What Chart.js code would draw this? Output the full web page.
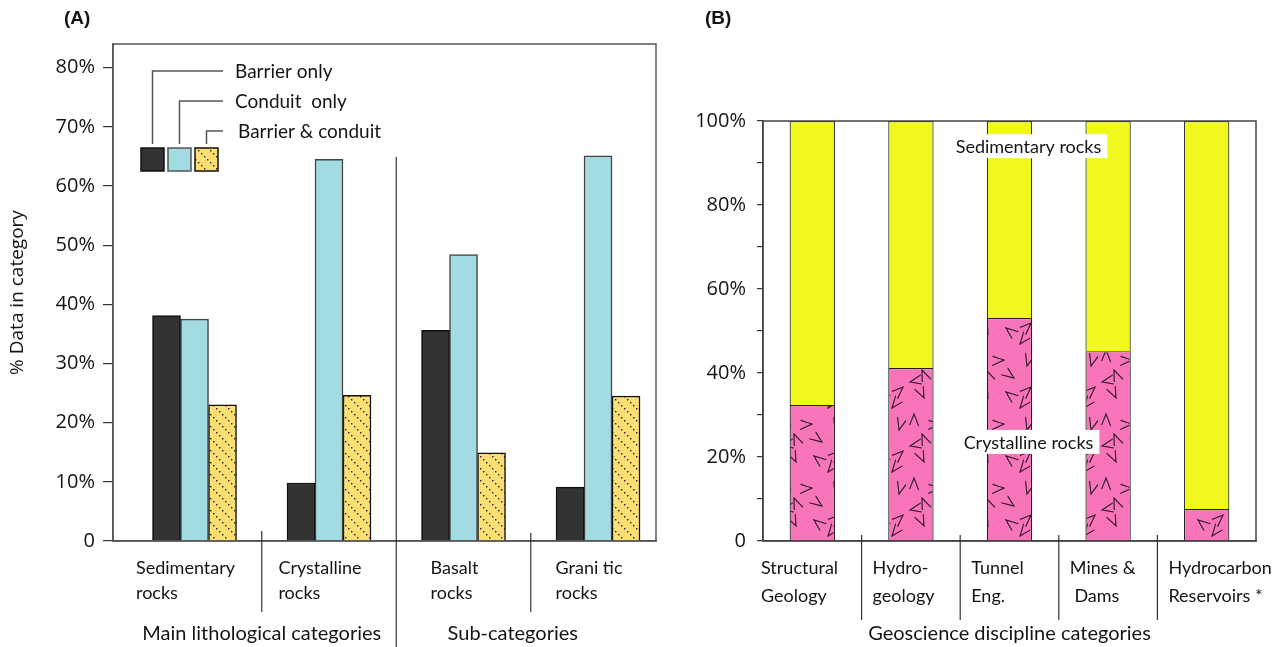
<!DOCTYPE html>
<html>
<head>
<meta charset="utf-8">
<title>Fault zone rock categories</title>
<script src="https://cdn.jsdelivr.net/npm/chart.js@4.4.1/dist/chart.umd.min.js"></script>
<style>
html, body { margin: 0; padding: 0; background: #fff; }
#wrapA { position: absolute; left: 0; top: 0; width: 680px; height: 647px; }
#wrapB { position: absolute; left: 680px; top: 0; width: 602px; height: 647px; }
</style>
</head>
<body>
<div id="wrapA"><canvas id="chartA"></canvas></div>
<div id="wrapB"><canvas id="chartB"></canvas></div>
<script>
// (A) % data in each lithological category
var rockCats = [['Sedimentary', 'rocks'], ['Crystalline', 'rocks'], ['Basalt', 'rocks'], ['Grani tic', 'rocks']];
var barrierOnly = [38.1, 9.8, 35.6, 9.1];
var conduitOnly = [37.5, 64.5, 48.4, 65.1];
var barrierConduit = [23.0, 24.6, 14.9, 24.5];
var seriesA = ['Barrier only', 'Conduit  only', 'Barrier & conduit'];
var groupTitlesA = ['Main lithological categories', 'Sub-categories'];

// (B) share of crystalline / sedimentary rocks per discipline
var disciplines = [['Structural', 'Geology'], ['Hydro-', 'geology'], ['Tunnel', 'Eng.'], ['Mines &', ' Dams'], ['Hydrocarbon', 'Reservoirs *']];
var crystalline = [32.4, 41.2, 53.1, 45.2, 7.6];
var sedimentary = [67.6, 58.8, 46.9, 54.8, 92.4];
var groupTitleB = 'Geoscience discipline categories';

var LBL = 'Lato, "Open Sans", sans-serif';
var TCK = '"Open Sans", sans-serif';
var INK = '#141414';

function dotPattern() {
  var c = document.createElement('canvas'); c.width = 12; c.height = 12;
  var g = c.getContext('2d');
  g.fillStyle = '#FFDE72'; g.fillRect(0, 0, 12, 12);
  g.fillStyle = '#1c1c1c';
  [0, 3, 6, 9].forEach(function(k) { g.fillRect(k, k, 1.4, 1.4); });
  return g.createPattern(c, 'repeat');
}

// fixed chevron layout for the crystalline texture: [x, y, angle]
var chevronTile = [[6,8,0.3],[31,3,2.0],[52,14,3.9],[20,24,5.0],[42,30,1.2],[4,40,2.7],[27,46,4.6],[50,50,0.8],[14,58,3.4],[38,62,5.7]];
function chevronPattern() {
  var T = 64;
  var c = document.createElement('canvas'); c.width = T; c.height = T;
  var g = c.getContext('2d');
  g.fillStyle = '#F775B8'; g.fillRect(0, 0, T, T);
  g.strokeStyle = '#2a1424'; g.lineWidth = 1.1;
  chevronTile.forEach(function(p) {
    for (var dx = -T; dx <= T; dx += T) for (var dy = -T; dy <= T; dy += T) {
      var x = p[0] + dx, y = p[1] + dy, a = p[2];
      g.beginPath();
      g.moveTo(x + 13 * Math.cos(a), y + 13 * Math.sin(a));
      g.lineTo(x, y);
      g.lineTo(x + 12 * Math.cos(a + 0.75), y + 12 * Math.sin(a + 0.75));
      g.stroke();
    }
  });
  return g.createPattern(c, 'repeat');
}

function drawBlockLabel(ctx, lines, left, y0, gap) {
  ctx.textAlign = 'left';
  lines.forEach(function(l, k) { ctx.fillText(l, left, y0 + k * gap); });
}
function blockWidth(ctx, lines) {
  var w = 0;
  lines.forEach(function(l) { w = Math.max(w, ctx.measureText(l).width); });
  return w;
}

function line(ctx, x1, y1, x2, y2) {
  ctx.beginPath(); ctx.moveTo(x1, y1); ctx.lineTo(x2, y2); ctx.stroke();
}

var decorA = {
  id: 'decorA',
  afterDraw: function(chart) {
    var ctx = chart.ctx, a = chart.chartArea, xs = chart.scales.x;
    ctx.save();
    ctx.strokeStyle = '#555'; ctx.lineWidth = 1.5;
    ctx.strokeRect(a.left, a.top, a.right - a.left, a.bottom - a.top);

    // separators
    ctx.strokeStyle = '#333'; ctx.lineWidth = 1.2;
    var s1 = xs.getPixelForValue(0.5), s2 = xs.getPixelForValue(1.5), s3 = xs.getPixelForValue(2.5);
    line(ctx, s1, a.bottom - 10, s1, a.bottom + 71);
    line(ctx, s3, a.bottom - 8, s3, a.bottom + 71);
    line(ctx, s2, a.top + 113, s2, 647);

    // category labels
    ctx.fillStyle = INK; ctx.font = '18px ' + LBL; ctx.textBaseline = 'middle';
    rockCats.forEach(function(c, i) {
      var w = blockWidth(ctx, c);
      drawBlockLabel(ctx, c, xs.getPixelForValue(i) - 9 - w / 2, a.bottom + 27, 25);
    });
    ctx.font = '20px ' + LBL; ctx.textAlign = 'center';
    ctx.fillText(groupTitlesA[0], s1, a.bottom + 93);
    ctx.fillText(groupTitlesA[1], s3 - 18, a.bottom + 93);

    // legend with leader lines
    var fills = chart.data.datasets.map(function(d) { return d.backgroundColor; });
    var sq = 23, sy = a.top + 104, lineY = [a.top + 27, a.top + 57, a.top + 87];
    for (var k = 0; k < 3; k++) {
      var sx = a.left + 28 + k * 27;
      ctx.fillStyle = fills[k]; ctx.fillRect(sx, sy, sq, sq);
      ctx.strokeStyle = k === 1 ? '#555' : '#111'; ctx.lineWidth = 1.5;
      ctx.strokeRect(sx, sy, sq, sq);
      ctx.strokeStyle = '#555'; ctx.lineWidth = 1.5;
      var cx = sx + sq / 2;
      ctx.beginPath(); ctx.moveTo(cx, sy - 4); ctx.lineTo(cx, lineY[k]); ctx.lineTo(a.left + 110, lineY[k]); ctx.stroke();
      ctx.fillStyle = INK; ctx.font = '19px ' + LBL; ctx.textAlign = 'left';
      ctx.fillText(seriesA[k], a.left + (k === 2 ? 125 : 122), lineY[k] + 1);
    }

    ctx.font = 'bold 19px "Liberation Sans", Arial, sans-serif'; ctx.textAlign = 'left';
    ctx.fillText('(A)', 64, 19);
    ctx.restore();
  }
};

var decorB = {
  id: 'decorB',
  afterDraw: function(chart) {
    var ctx = chart.ctx, a = chart.chartArea, xs = chart.scales.x, ys = chart.scales.y;
    ctx.save();
    ctx.strokeStyle = '#444'; ctx.lineWidth = 1.5;
    ctx.strokeRect(a.left, a.top, a.right - a.left, a.bottom - a.top);

    ctx.strokeStyle = '#333'; ctx.lineWidth = 1.2;
    var seps = [];
    for (var i = 0; i < disciplines.length - 1; i++) {
      var sx = (xs.getPixelForValue(i) + xs.getPixelForValue(i + 1)) / 2;
      seps.push(sx);
      line(ctx, sx, a.bottom - 6, sx, a.bottom + 79);
    }

    // labels sit just right of each separator
    ctx.fillStyle = INK; ctx.font = '18px ' + LBL; ctx.textBaseline = 'middle';
    disciplines.forEach(function(c, i) {
      var left = i === 0 ? a.left - 2 : seps[i - 1] + 11;
      drawBlockLabel(ctx, c, left, a.bottom + 27, 28);
    });
    ctx.font = '20px ' + LBL; ctx.textAlign = 'center';
    ctx.fillText(groupTitleB, (a.left + a.right) / 2, a.bottom + 93);

    // in-plot annotations
    [['Sedimentary rocks', 94], ['Crystalline rocks', 23.6]].forEach(function(t) {
      var cx = xs.getPixelForValue(2) + 19, cy = ys.getPixelForValue(t[1]);
      ctx.font = '18px ' + LBL;
      var w = ctx.measureText(t[0]).width;
      ctx.fillStyle = '#fff';
      ctx.fillRect(cx - w / 2 - 4, cy - 12, w + 10, 24);
      ctx.fillStyle = INK; ctx.textAlign = 'center';
      ctx.fillText(t[0], cx, cy + 1);
    });

    ctx.font = 'bold 19px "Liberation Sans", Arial, sans-serif'; ctx.textAlign = 'left';
    ctx.fillText('(B)', 25, 19);
    ctx.restore();
  }
};

function pts(vals) { return vals.map(function(v, i) { return { x: i, y: v }; }); }

new Chart(document.getElementById('chartA'), {
  type: 'bar',
  data: {
    datasets: [
      { label: seriesA[0], data: pts(barrierOnly), backgroundColor: '#333333', borderColor: '#111', borderWidth: 1.5 },
      { label: seriesA[1], data: pts(conduitOnly), backgroundColor: '#A2DBE2', borderColor: '#444', borderWidth: 1.5 },
      { label: seriesA[2], data: pts(barrierConduit), backgroundColor: dotPattern(), borderColor: '#111', borderWidth: 1.5 }
    ]
  },
  options: {
    responsive: true, maintainAspectRatio: false, animation: false,
    layout: { padding: { top: 44, right: 24, left: 0, bottom: 0 } },
    barThickness: 28,
    plugins: { legend: { display: false }, tooltip: { enabled: false } },
    scales: {
      x: {
        type: 'linear', min: -0.606, max: 3.431, offset: false,
        ticks: { display: false },
        grid: { display: false, offset: false },
        border: { color: '#555', width: 1.5 },
        afterFit: function(s) { s.height = 106; }
      },
      y: {
        min: 0, max: 84,
        afterBuildTicks: function(s) { s.ticks = s.ticks.filter(function(t) { return t.value % 10 === 0; }); },
        ticks: {
          stepSize: 10, padding: 8, color: INK, font: { family: TCK, size: 20 },
          callback: function(v) { return v === 0 ? '0' : v + '%'; }
        },
        grid: { drawOnChartArea: false, drawTicks: true, tickLength: 10, color: '#333', lineWidth: 1.2 },
        border: { color: '#555', width: 1.5 },
        title: { display: true, text: '% Data in category', color: INK, font: { family: TCK, size: 19 }, padding: { top: 6, bottom: 0 } },
        afterFit: function(s) { s.width = 113; }
      }
    }
  },
  plugins: [decorA]
});

new Chart(document.getElementById('chartB'), {
  type: 'bar',
  data: {
    labels: disciplines,
    datasets: [
      { label: 'Crystalline rocks', data: crystalline, backgroundColor: chevronPattern(), borderColor: '#222', borderWidth: 1.2 },
      { label: 'Sedimentary rocks', data: sedimentary, backgroundColor: '#F0F81E', borderColor: '#333', borderWidth: 1.2 }
    ]
  },
  options: {
    responsive: true, maintainAspectRatio: false, animation: false,
    layout: { padding: { top: 121, right: 26, left: 0, bottom: 0 } },
    categoryPercentage: 1, barPercentage: 0.46,
    plugins: { legend: { display: false }, tooltip: { enabled: false } },
    scales: {
      x: {
        stacked: true,
        ticks: { display: false },
        grid: { display: false },
        border: { color: '#444', width: 1.5 },
        afterFit: function(s) { s.height = 106; }
      },
      y: {
        stacked: true, min: 0, max: 100,
        ticks: {
          stepSize: 10, padding: 11, color: INK, font: { family: TCK, size: 20 },
          callback: function(v) { return v === 0 ? '0' : (v % 20 === 0 ? v + '%' : ''); }
        },
        grid: { drawOnChartArea: false, drawTicks: true, tickLength: 6, color: '#333', lineWidth: 1.2 },
        border: { color: '#444', width: 1.5 },
        afterFit: function(s) { s.width = 83; }
      }
    }
  },
  plugins: [decorB]
});
</script>
</body>
</html>
